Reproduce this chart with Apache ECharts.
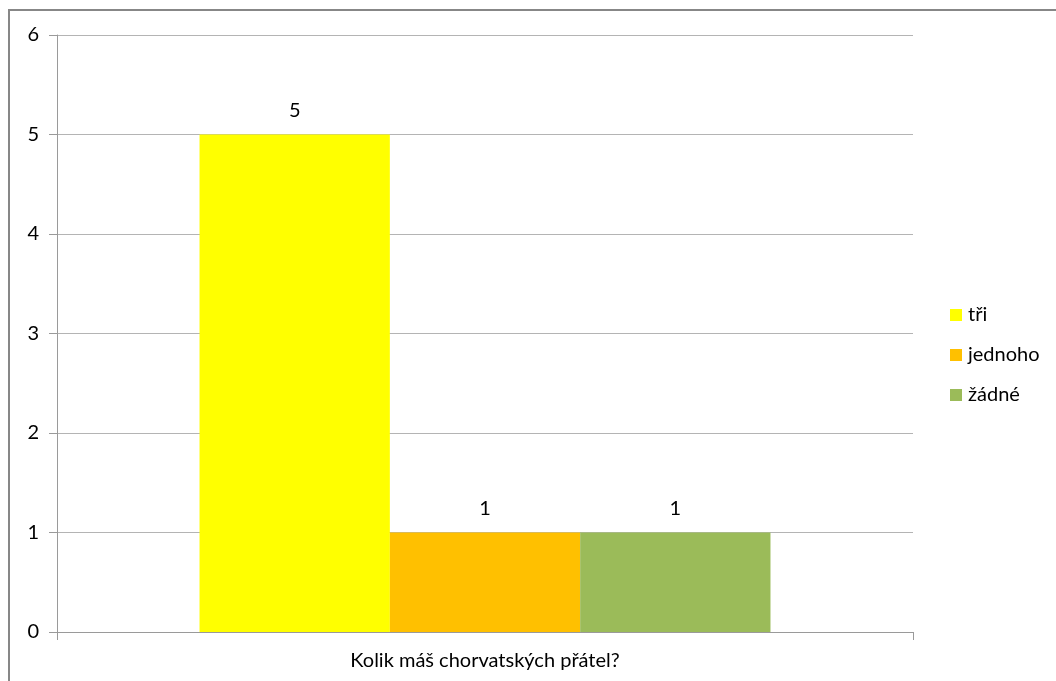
<!DOCTYPE html>
<html>
<head>
<meta charset="utf-8">
<script src="https://cdn.jsdelivr.net/npm/echarts@6/dist/echarts.min.js"></script>
<style>
  html, body { margin: 0; padding: 0; background: #fff; }
  #chart { width: 1056px; height: 681px; }
</style>
</head>
<body>
<div id="chart"></div>
<script>
// Survey question and answer counts
const categories = ['Kolik máš chorvatských přátel?'];
const seriesNames = ['tři', 'jednoho', 'žádné'];
const seriesValues = [[5], [1], [1]];
const seriesColors = ['#FFFF00', '#FFC000', '#9BBB59'];
const yTicks = [0, 1, 2, 3, 4, 5, 6];

const FONT = 'Lato, "Open Sans", sans-serif';
const FONT_SIZE = 20;

const chart = echarts.init(document.getElementById('chart'), null, { renderer: 'canvas' });

chart.setOption({
  animation: false,
  backgroundColor: '#fff',
  textStyle: { fontFamily: FONT },
  graphic: [{
    type: 'rect',
    shape: { x: 9, y: 10, width: 1060, height: 690 },
    style: { fill: 'none', stroke: '#878787', lineWidth: 2 },
    silent: true
  }],
  grid: { left: 57, right: 143, top: 35, bottom: 49, containLabel: false },
  legend: {
    orient: 'vertical',
    left: 945,
    top: 300,
    itemWidth: 12,
    itemHeight: 12,
    itemGap: 20,
    icon: 'rect',
    textStyle: { fontFamily: FONT, fontSize: FONT_SIZE, color: '#000', padding: [0, 0, 0, 1] },
    data: seriesNames
  },
  xAxis: {
    type: 'category',
    data: categories,
    axisLine: { lineStyle: { color: '#9a9a9a', width: 1 } },
    axisTick: { show: true, length: 8, alignWithLabel: false, lineStyle: { color: '#9a9a9a' } },
    axisLabel: { fontFamily: FONT, fontSize: FONT_SIZE, color: '#000', margin: 19 }
  },
  yAxis: {
    type: 'value',
    min: yTicks[0],
    max: yTicks[yTicks.length - 1],
    interval: 1,
    axisLine: { show: true, lineStyle: { color: '#9a9a9a' } },
    axisTick: { show: true, length: 8, lineStyle: { color: '#9a9a9a' } },
    axisLabel: { fontFamily: FONT, fontSize: FONT_SIZE, color: '#000', margin: 18 },
    splitLine: { lineStyle: { color: '#b4b4b4', width: 1 } }
  },
  series: seriesNames.map((name, i) => ({
    name,
    type: 'bar',
    data: seriesValues[i],
    barGap: '0%',
    barCategoryGap: '33.3%',
    itemStyle: { color: seriesColors[i] },
    label: {
      show: true,
      position: 'top',
      distance: 14,
      fontFamily: FONT,
      fontSize: FONT_SIZE,
      color: '#000'
    }
  }))
});
</script>
</body>
</html>
